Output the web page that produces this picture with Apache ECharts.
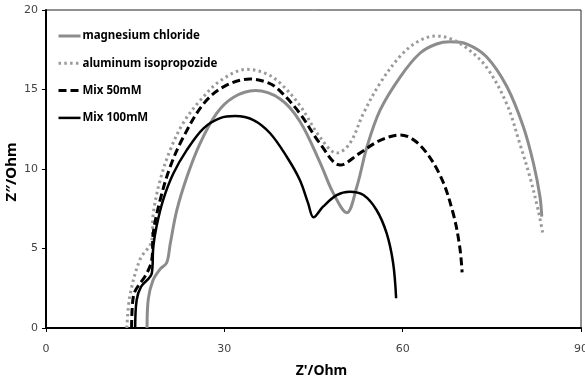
<!DOCTYPE html>
<html>
<head>
<meta charset="utf-8">
<script src="https://cdn.jsdelivr.net/npm/echarts@6/dist/echarts.min.js"></script>
<style>html,body{margin:0;padding:0;background:#fff}#c{width:585px;height:385px}</style>
</head>
<body>
<div id="c"></div>
<script>
const seriesNames = ['magnesium chloride', 'aluminum isopropozide', 'Mix 50mM', 'Mix 100mM'];
const xTicks = [0, 30, 60, 90];
const yTicks = [0, 5, 10, 15, 20];

const mgX = [17.0, 17.2, 18.0, 19.2, 20.3, 20.9, 22.0, 23.7, 25.9, 28.7, 31.5, 35.2, 39.4, 42.7, 46.1, 48.3, 50.6, 52.3, 54.0, 56.2, 59.6, 62.9, 65.7, 68.0, 70.8, 74.1, 77.5, 80.3, 82.0, 83.1, 83.4];
const mgY = [0.0, 1.8, 3.0, 3.7, 4.1, 5.3, 7.4, 9.5, 11.6, 13.5, 14.5, 14.93, 14.4, 13.0, 10.4, 8.5, 7.25, 8.9, 11.4, 13.7, 15.8, 17.28, 17.86, 18.0, 17.86, 17.06, 15.2, 12.66, 10.36, 8.26, 7.0];

const alX = [13.6, 14.1, 15.8, 17.8, 18.05, 19.2, 20.9, 23.1, 25.9, 29.5, 33.8, 37.0, 39.4, 42.7, 46.1, 48.9, 51.1, 53.4, 56.2, 59.6, 62.5, 65.5, 68.0, 70.8, 74.1, 77.5, 79.7, 81.4, 82.8, 83.6];
const alY = [0.0, 2.0, 4.3, 5.5, 7.2, 9.3, 11.2, 12.9, 14.3, 15.6, 16.27, 16.0, 15.4, 14.0, 12.0, 11.0, 11.6, 13.5, 15.4, 17.1, 18.0, 18.36, 18.2, 17.6, 16.4, 14.1, 11.6, 9.5, 7.4, 5.9];

const mix50X = [14.4, 14.7, 16.9, 17.8, 18.05, 19.2, 20.9, 23.1, 26.5, 30.0, 34.3, 37.5, 39.4, 42.7, 46.1, 49.5, 52.8, 56.2, 59.6, 62.9, 66.3, 68.5, 69.6, 70.0];
const mix50Y = [0.0, 2.0, 3.4, 4.3, 6.0, 8.05, 10.15, 12.0, 14.1, 15.2, 15.66, 15.4, 14.9, 13.5, 11.6, 10.25, 11.0, 11.8, 12.14, 11.5, 9.6, 7.2, 5.1, 3.5];

const mix100X = [15.0, 15.25, 16.0, 17.8, 18.05, 18.6, 19.7, 21.4, 23.7, 26.5, 29.3, 31.8, 34.9, 37.7, 40.5, 42.7, 44.1, 45.0, 46.6, 48.9, 51.1, 53.4, 55.6, 57.3, 58.4, 58.9];
const mix100Y = [0.0, 1.76, 2.6, 3.44, 5.1, 6.4, 8.05, 9.7, 11.2, 12.56, 13.2, 13.33, 13.08, 12.25, 10.77, 9.31, 7.84, 6.96, 7.63, 8.36, 8.57, 8.36, 7.42, 5.96, 4.07, 1.87];

function pairs(xs, ys) { return xs.map((x, i) => [x, ys[i]]); }

const chart = echarts.init(document.getElementById('c'), null, {renderer: 'canvas'});
const tickFont = {color: '#444', fontSize: 11, fontFamily: 'DejaVu Sans'};
chart.setOption({
  animation: false,
  grid: {left: 46, right: 4, top: 10, bottom: 57, containLabel: false, outerBoundsMode: 'none',
         show: true, borderColor: '#222', borderWidth: 1},
  legend: {
    orient: 'vertical', left: 52, top: 25, itemWidth: 22, itemHeight: 14, itemGap: 15.3,
    data: seriesNames,
    itemStyle: {opacity: 0},
    lineStyle: {width: 'inherit'},
    textStyle: {fontFamily: 'Noto Sans', fontWeight: 'bold', fontSize: 11.5, color: '#000', padding: [0, 0, 0, -3]}
  },
  xAxis: {
    type: 'value', min: xTicks[0], max: xTicks[xTicks.length - 1], interval: 30,
    name: "Z'/Ohm", nameLocation: 'middle', nameGap: 36, nameMoveOverlap: false,
    nameTextStyle: {fontFamily: 'Noto Sans', fontWeight: 'bold', fontSize: 14, color: '#000', padding: [0, 0, 0, 16]},
    axisLine: {show: true, lineStyle: {color: '#000', width: 2}},
    axisTick: {show: true, length: 4, lineStyle: {color: '#000', width: 1}},
    axisLabel: Object.assign({margin: 16}, tickFont),
    splitLine: {show: false}
  },
  yAxis: {
    type: 'value', min: yTicks[0], max: yTicks[yTicks.length - 1], interval: 5,
    name: 'Z\u2033/Ohm', nameLocation: 'middle', nameGap: 27, nameMoveOverlap: false,
    nameTextStyle: {fontFamily: 'Noto Sans', fontWeight: 'bold', fontSize: 15, color: '#000', padding: [0, 0, 0, -6]},
    axisLine: {show: true, lineStyle: {color: '#000', width: 2}},
    axisTick: {show: true, length: 4, lineStyle: {color: '#000', width: 1}},
    axisLabel: Object.assign({margin: 8}, tickFont),
    splitLine: {show: false}
  },
  series: [
    {name: seriesNames[0], type: 'line', data: pairs(mgX, mgY), showSymbol: false, symbol: 'none', smooth: 0.35,
     lineStyle: {color: '#8c8c8c', width: 3}, itemStyle: {color: '#8c8c8c'}},
    {name: seriesNames[1], type: 'line', data: pairs(alX, alY), showSymbol: false, symbol: 'none', smooth: 0.35,
     lineStyle: {color: '#9a9a9a', width: 3, type: [2.5, 3.3]}, itemStyle: {color: '#9a9a9a'}},
    {name: seriesNames[2], type: 'line', data: pairs(mix50X, mix50Y), showSymbol: false, symbol: 'none', smooth: 0.35,
     lineStyle: {color: '#000', width: 3, type: [8, 4]}, itemStyle: {color: '#000'}},
    {name: seriesNames[3], type: 'line', data: pairs(mix100X, mix100Y), showSymbol: false, symbol: 'none', smooth: 0.35,
     lineStyle: {color: '#000', width: 2.5}, itemStyle: {color: '#000'}}
  ]
});
</script>
</body>
</html>
